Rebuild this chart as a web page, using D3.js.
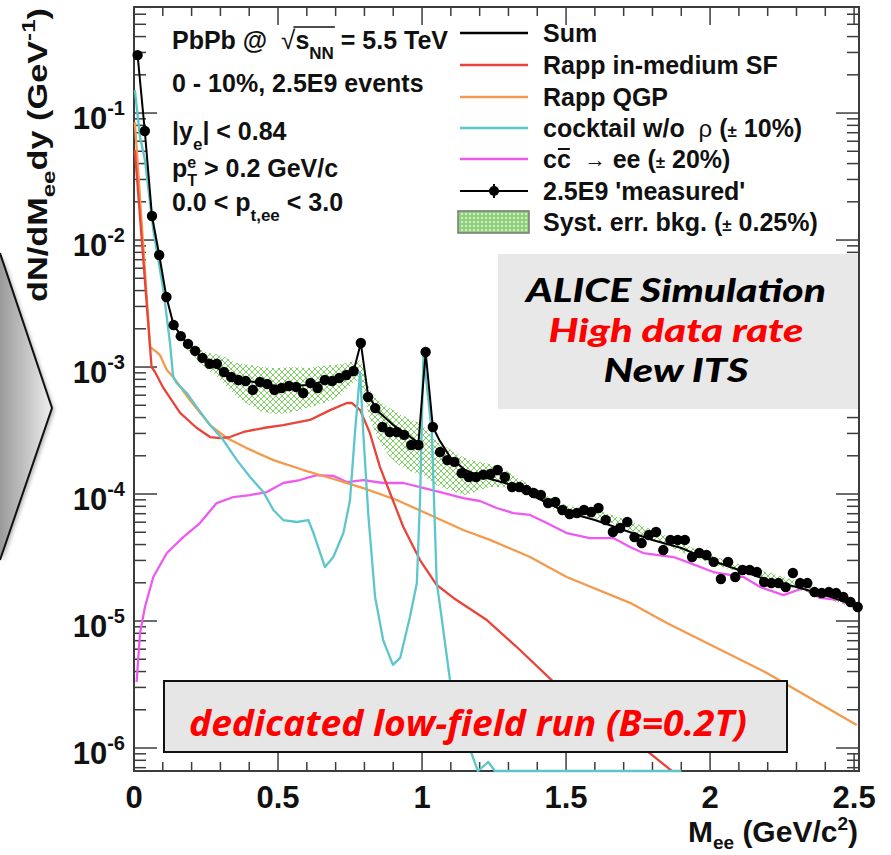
<!DOCTYPE html>
<html><head><meta charset="utf-8">
<script src="https://cdn.jsdelivr.net/npm/d3@7"></script>
<style>
body{margin:0;background:#fff;}
svg{display:block;font-family:"Liberation Sans",Arial,Helvetica,sans-serif;}
text{white-space:pre;}
</style>
</head><body>
<svg id="c" width="891" height="855"></svg>
<script>
// ---------------- data ----------------
const xTicks = [0, 0.5, 1, 1.5, 2, 2.5];
const xTickLabels = ["0", "0.5", "1", "1.5", "2", "2.5"];
const yTicks = [1e-6, 1e-5, 1e-4, 1e-3, 1e-2, 1e-1];
const yTickExp = ["-6", "-5", "-4", "-3", "-2", "-1"];

// 2.5E9 'measured' (bin centres, GeV/c^2)
const measX = [0.0125,0.0375,0.0625,0.0875,0.1125,0.1375,0.1625,0.1875,0.2125,0.2375,
  0.2625,0.2875,0.3125,0.3375,0.3625,0.3875,0.4125,0.4375,0.4625,0.4875,
  0.5125,0.5375,0.5625,0.5875,0.6125,0.6375,0.6625,0.6875,0.7125,0.7375,
  0.7625,0.7875,0.8125,0.8375,0.8625,0.8875,0.9125,0.9375,0.9625,0.9875,
  1.0125,1.0375,1.0625,1.0875,1.1125,1.1375,1.1625,1.1875,1.2125,1.2375,
  1.2625,1.2875,1.3125,1.3375,1.3625,1.3875,1.4125,1.4375,1.4625,1.4875,
  1.5125,1.5375,1.5625,1.5875,1.6125,1.6375,1.6625,1.6875,1.7125,1.7375,
  1.7625,1.7875,1.8125,1.8375,1.8625,1.8875,1.9125,1.9375,1.9625,1.9875,
  2.0125,2.0375,2.0625,2.0875,2.1125,2.1375,2.1625,2.1875,2.2125,2.2375,
  2.2625,2.2875,2.3125,2.3375,2.3625,2.3875,2.4125,2.4375,2.4625,2.4875,2.5125];
const measY = [0.286,0.0722,0.01545,0.00762,0.00356,0.00214,0.00175,0.00152,0.00134,0.00118,
  0.00106,0.00106,0.000914,0.000834,0.00079,0.000776,0.00066,0.000762,0.000735,0.00066,
  0.000684,0.000709,0.000697,0.000624,0.000748,0.000684,0.00079,0.000776,0.00082,0.000865,
  0.000931,0.001545,0.000581,0.000475,0.000337,0.000308,0.000308,0.000292,0.000243,0.000243,
  0.001312,0.000337,0.000214,0.000185,0.000179,0.000146,0.000136,0.000136,0.000142,1.437e-4,
  1.545e-4,1.361e-4,1.135e-4,1.135e-4,1.075e-4,1.018e-4,9.82e-5,8.49e-5,8.65e-5,7.48e-5,
  6.96e-5,7.08e-5,7.48e-5,7.21e-5,7.76e-5,6.24e-5,5.02e-5,5.40e-5,6.02e-5,4.58e-5,
  4.11e-5,4.75e-5,5.02e-5,3.62e-5,4.35e-5,4.35e-5,4.35e-5,3.19e-5,3.43e-5,3.31e-5,
  2.92e-5,2.14e-5,2.92e-5,2.22e-5,2.52e-5,2.52e-5,2.43e-5,2.03e-5,1.99e-5,1.99e-5,
  1.85e-5,2.39e-5,1.99e-5,1.99e-5,1.69e-5,1.66e-5,1.69e-5,1.66e-5,1.545e-5,1.41e-5,1.29e-5];

// Sum
const sumX = [0.0125,0.0375,0.0625,0.0875,0.1125,0.1375,0.175,0.2,0.25,0.3,0.35,0.4,0.45,0.5,0.55,0.6,0.65,0.7,0.74,
  0.7625,0.7875,0.8125,0.85,0.9,0.95,0.9875,1.0125,1.0375,1.06,1.1,1.15,1.2,1.3,1.4,1.5,1.6,1.7,1.8,1.9,2.0,2.1,2.2,2.3,2.4,2.5];
const sumY = [0.286,0.0722,0.01545,0.00762,0.00356,0.00214,0.00163,0.001413,0.001114,0.000946,0.000834,0.000776,0.000735,0.000709,0.000709,0.000721,0.000762,0.000819,0.000914,
  0.000931,0.001545,0.000602,0.000442,0.000349,0.000292,0.000252,0.001312,0.000337,0.000266,0.000192,0.0001545,0.0001387,0.0001199,9.30e-5,7.21e-5,6.24e-5,5.21e-5,4.35e-5,3.76e-5,3.02e-5,2.52e-5,2.10e-5,1.85e-5,1.60e-5,1.34e-5];

// Rapp in-medium SF
const rappSfX = [0.003,0.061,0.073,0.102,0.160,0.218,0.264,0.299,0.333,0.380,0.449,0.518,0.611,0.681,0.739,0.756,0.785,0.819,0.854,0.889,
  0.935,0.993,1.051,1.109,1.225,1.340,1.468,1.491,1.572,1.734,1.867];
const rappSfY = [0.0511,0.001,0.000914,0.000684,0.000435,0.000331,0.000281,0.000276,0.000281,0.000308,0.000331,0.000349,0.000383,0.000458,0.000521,0.000521,0.000458,0.000302,0.000163,0.0001018,
  5.50e-5,3.02e-5,1.92e-5,1.52e-5,1.018e-5,5.91e-6,3.13e-6,3.02e-6,2.10e-6,1.156e-6,6.6e-7];

// Rapp QGP
const rappQgpX = [0.003,0.056,0.079,0.090,0.114,0.136,0.194,0.264,0.322,0.391,0.484,0.588,0.681,0.796,0.912,1.028,1.143,1.236,1.375,1.502,1.722,1.850,2.197,2.509];
const rappQgpY = [0.0849,0.001436,0.001312,0.001242,0.000946,0.000834,0.00055,0.000349,0.000276,0.00023,0.000185,0.0001545,0.0001337,0.0001114,8.97e-5,6.84e-5,5.21e-5,4.35e-5,3.19e-5,2.22e-5,1.39e-5,9.64e-6,3.90e-6,1.52e-6];

// cocktail w/o rho
const cocktailX = [0.003,0.021,0.038,0.067,0.102,0.125,0.136,0.148,0.183,0.218,0.264,0.310,0.357,0.403,0.449,0.484,0.518,0.565,0.605,0.623,
  0.663,0.692,0.727,0.750,0.767,0.785,0.796,0.814,0.837,0.865,0.899,0.924,0.958,0.982,0.993,1.005,1.034,1.051,1.063,1.097,
  1.155,1.194,1.230,1.253,1.5,1.9];
const cocktailY = [0.1518,0.0647,0.0427,0.0120,0.00404,0.001545,0.000834,0.000748,0.000624,0.000484,0.000349,0.000266,0.000185,0.000136,0.0001037,7.48e-5,6.24e-5,6.02e-5,6.24e-5,4.93e-5,
  2.66e-5,3.19e-5,4.93e-5,8.97e-5,0.000302,0.000914,0.000302,6.59e-5,1.545e-5,7.08e-6,4.51e-6,5.12e-6,1.075e-5,1.99e-5,8.97e-5,0.001289,0.000302,1.99e-5,1.29e-5,3.43e-6,
  1.156e-6,6.0e-7,7.76e-7,5.0e-7,3.0e-7,2.0e-7];

// c cbar -> ee
const charmX = [0.009,0.021,0.038,0.067,0.114,0.171,0.229,0.287,0.345,0.403,0.461,0.518,0.576,0.634,0.692,0.739,0.796,0.866,0.935,0.993,
  1.063,1.143,1.201,1.259,1.317,1.375,1.433,1.502,1.583,1.664,1.722,1.768,1.873,1.931,2.011,2.116,2.174,2.255,2.324,2.382,2.451,2.509];
const charmY = [3.31e-6,8.05e-6,1.29e-5,2.22e-5,3.43e-5,4.58e-5,5.91e-5,8.49e-5,9.47e-5,9.82e-5,0.0001037,0.0001221,0.0001289,0.000141,0.000139,0.0001242,0.0001289,0.0001221,0.0001221,0.0001135,
  0.0001037,9.30e-5,8.81e-5,7.76e-5,7.08e-5,6.84e-5,5.91e-5,4.93e-5,4.50e-5,4.50e-5,3.83e-5,3.43e-5,3.19e-5,2.86e-5,2.43e-5,2.22e-5,1.85e-5,1.60e-5,1.82e-5,1.52e-5,1.46e-5,1.265e-5];

// Syst. err. bkg. band
const bandX  = [0.175,0.25,0.3,0.35,0.4,0.45,0.5,0.55,0.6,0.65,0.7,0.75,0.78,0.82,0.85,0.9,0.95,1.0,1.05,1.1,1.15,1.2,1.25,1.3,1.4,1.5,1.6,1.8,2.0,2.2,2.5];
const bandHi = [1.69e-3,1.31e-3,1.24e-3,1.09e-3,1.04e-3,1.0e-3,9.82e-4,1.0e-3,9.82e-4,1.02e-3,1.04e-3,1.09e-3,1.135e-3,6.59e-4,5.50e-4,4.58e-4,3.97e-4,3.49e-4,2.66e-4,2.22e-4,1.92e-4,1.79e-4,1.69e-4,1.49e-4,1.075e-4,8.19e-5,7.48e-5,5.21e-5,3.31e-5,2.43e-5,1.46e-5];
const bandLo = [1.46e-3,9.82e-4,7.90e-4,6.02e-4,5.02e-4,4.42e-4,4.27e-4,4.42e-4,4.75e-4,5.11e-4,5.70e-4,7.09e-4,7.90e-4,3.83e-4,2.66e-4,1.85e-4,1.545e-4,1.41e-4,1.18e-4,1.075e-4,9.82e-5,1.075e-4,1.135e-4,1.11e-4,8.97e-5,6.84e-5,6.47e-5,4.35e-5,2.86e-5,2.10e-5,1.265e-5];

const legendLabels = ["Sum", "Rapp in-medium SF", "Rapp QGP", "cocktail w/o ρ (± 10%)", "cc̄ → ee (± 20%)", "2.5E9 'measured'", "Syst. err. bkg. (± 0.25%)"];

// ---------------- drawing ----------------
const C = {sum:"#000", sf:"#e8443a", qgp:"#f39a4c", cock:"#5cc6cb", charm:"#ee5af0", frame:"#3c3c3c", band:"#7fcf63"};
const svg = d3.select("#c");
const defs = svg.append("defs");
const grad = defs.append("linearGradient").attr("id","chev").attr("x1",0).attr("x2",1).attr("y1",0).attr("y2",0);
grad.append("stop").attr("offset","0%").attr("stop-color","#9a9a9a");
grad.append("stop").attr("offset","100%").attr("stop-color","#eeeeee");
const pat = defs.append("pattern").attr("id","hatch").attr("width",6).attr("height",6).attr("patternUnits","userSpaceOnUse");
pat.append("path").attr("d","M0,0L6,6M6,0L0,6").attr("stroke",C.band).attr("stroke-width",1).attr("fill","none");
const pat2 = defs.append("pattern").attr("id","hatch2").attr("width",4).attr("height",4).attr("patternUnits","userSpaceOnUse");
pat2.append("rect").attr("width",4).attr("height",4).attr("fill","#8fd07a");
pat2.append("circle").attr("cx",2).attr("cy",2).attr("r",0.9).attr("fill","#f2fbef");
const sh = defs.append("filter").attr("id","shadow").attr("x","-20%").attr("y","-20%").attr("width","160%").attr("height","160%");
sh.append("feDropShadow").attr("dx",2).attr("dy",2).attr("stdDeviation",2).attr("flood-opacity",0.35);

// chevron at the left edge
svg.append("polygon").attr("points","0,253 52,408 0,560").attr("fill","url(#chev)").attr("filter","url(#shadow)");
svg.append("path").attr("d","M0,253L52,408L0,560").attr("fill","none").attr("stroke","#111").attr("stroke-width",2);

const yMin = 6.59e-7, yMax = 0.684;
const x = d3.scaleLinear().domain([0, 2.517]).range([134, 859]);
const y = d3.scaleLog().domain([yMin, yMax]).range([771, 7]);
const yc = v => y(Math.max(v, yMin));
const X0 = x.range()[0], X1 = x.range()[1], Y0 = y.range()[0], Y1 = y.range()[1];

// frame
svg.append("rect").attr("x",X0).attr("y",Y1).attr("width",X1-X0).attr("height",Y0-Y1)
  .attr("fill","none").attr("stroke",C.frame).attr("stroke-width",2);
const tk = svg.append("g").attr("stroke",C.frame).attr("stroke-width",1.5);
const xMinor = d3.range(0, 2.5001, 0.1);
xMinor.forEach(v => {
  const major = xTicks.some(t => Math.abs(t - v) < 1e-6);
  const L = major ? 18 : 9;
  tk.append("line").attr("x1",x(v)).attr("x2",x(v)).attr("y1",Y0).attr("y2",Y0-L);
  tk.append("line").attr("x1",x(v)).attr("x2",x(v)).attr("y1",Y1).attr("y2",Y1+L);
});
for (let e = -7; e <= 0; e++) {
  for (let m = 1; m <= 9; m++) {
    const v = m * Math.pow(10, e);
    if (v < yMin || v > yMax) continue;
    const L = m === 1 ? 23 : 12;
    tk.append("line").attr("x1",X0).attr("x2",X0+L).attr("y1",y(v)).attr("y2",y(v));
    tk.append("line").attr("x1",X1).attr("x2",X1-L).attr("y1",y(v)).attr("y2",y(v));
  }
}

// tick labels
xTicks.forEach((v,i) => {
  svg.append("text").attr("x",x(v)).attr("y",808).attr("text-anchor","middle")
    .attr("font-size",31).attr("font-weight","bold").attr("fill","#111").text(xTickLabels[i]);
});
yTicks.forEach((v,i) => {
  const t = svg.append("text").attr("x",125).attr("y",y(v)+16).attr("text-anchor","end")
    .attr("font-size",31).attr("font-weight","bold").attr("fill","#111");
  t.append("tspan").text("10");
  t.append("tspan").attr("font-size",20).attr("dy",-14).text(yTickExp[i]);
});

// band
const bandData = bandX.map((d,i) => [d, bandHi[i], bandLo[i]]);
svg.append("path").datum(bandData)
  .attr("d", d3.area().x(d=>x(d[0])).y0(d=>y(d[2])).y1(d=>y(d[1])).curve(d3.curveMonotoneX))
  .attr("fill","url(#hatch)");

// curves
const lineGen = d3.line().x(d=>x(d[0])).y(d=>yc(d[1]));
const zip = (a,b) => a.map((d,i)=>[d,b[i]]);
[[charmX,charmY,C.charm],[rappQgpX,rappQgpY,C.qgp],[rappSfX,rappSfY,C.sf],[cocktailX,cocktailY,C.cock]].forEach(([xs,ys,col]) => {
  svg.append("path").datum(zip(xs,ys)).attr("d",lineGen).attr("fill","none").attr("stroke",col)
    .attr("stroke-width",2.3).attr("stroke-linejoin","round");
});
svg.append("path").datum(zip(sumX,sumY)).attr("d",lineGen).attr("fill","none").attr("stroke",C.sum).attr("stroke-width",2);

// measured points
svg.append("g").selectAll("circle").data(zip(measX,measY)).join("circle")
  .attr("cx",d=>x(d[0])).attr("cy",d=>yc(d[1])).attr("r",5.2).attr("fill","#000");

// rich text helper (left aligned pieces)
function rich(g, x0, y0, parts, base) {
  let cx = x0; const spans = [];
  parts.forEach(p => {
    const t = g.append("text").attr("x",cx).attr("y",y0 + (p.dy||0))
      .attr("font-size",p.fs||base.fs).attr("font-weight",p.fw||base.fw||"bold")
      .attr("fill",p.fill||base.fill||"#111").text(p.t);
    if (p.ff) t.attr("font-family",p.ff);
    const w = t.node().getComputedTextLength();
    spans.push({x0:cx, x1:cx+w});
    if (!p.stack) cx += (p.adv !== undefined ? p.adv : w);
  });
  return {spans, width: cx - x0};
}

// info block
const info = svg.append("g");
const base = {fs:25};
const l1 = rich(info, 172, 49, [{t:"PbPb @  "},{t:"√", fw:"normal", fs:26},{t:"s"},{t:"NN", fs:17, dy:10},{t:" = 5.5 TeV"}], base);
info.append("line").attr("x1",l1.spans[1].x1-2).attr("x2",l1.spans[3].x1+1).attr("y1",27).attr("y2",27)
  .attr("stroke","#111").attr("stroke-width",1.6);
rich(info, 172, 92, [{t:"0 - 10%, 2.5E9 events"}], base);
rich(info, 172, 140, [{t:"|y"},{t:"e", fs:17, dy:10},{t:"| < 0.84"}], base);
rich(info, 172, 177, [{t:"p"},{t:"e", fs:16, dy:-9, stack:true},{t:"T", fs:16, dy:9},{t:" > 0.2 GeV/c"}], base);
rich(info, 172, 211, [{t:"0.0 < p"},{t:"t,ee", fs:17, dy:10},{t:" < 3.0"}], base);

// legend
const lg = svg.append("g");
const rowsY = [33, 65, 97, 128, 159, 191, 222];
const lineCols = [C.sum, C.sf, C.qgp, C.cock, C.charm];
lineCols.forEach((col,i) => {
  lg.append("line").attr("x1",460).attr("x2",528).attr("y1",rowsY[i]).attr("y2",rowsY[i]).attr("stroke",col).attr("stroke-width",2.3);
});
lg.append("line").attr("x1",460).attr("x2",528).attr("y1",rowsY[5]).attr("y2",rowsY[5]).attr("stroke","#000").attr("stroke-width",2);
lg.append("line").attr("x1",494).attr("x2",494).attr("y1",rowsY[5]-7).attr("y2",rowsY[5]+7).attr("stroke","#000").attr("stroke-width",2);
lg.append("circle").attr("cx",494).attr("cy",rowsY[5]).attr("r",5).attr("fill","#000");
lg.append("rect").attr("x",458).attr("y",211).attr("width",71).attr("height",22).attr("fill","url(#hatch2)").attr("stroke","#777").attr("stroke-width",1.5);
const lb = {fs:25};
rich(lg, 543, rowsY[0]+9, [{t:legendLabels[0]}], lb);
rich(lg, 543, rowsY[1]+9, [{t:legendLabels[1]}], lb);
rich(lg, 543, rowsY[2]+9, [{t:legendLabels[2]}], lb);
rich(lg, 543, rowsY[3]+9, [{t:"cocktail w/o  "},{t:"ρ", fw:"normal", fs:24},{t:" ("},{t:"±", fs:17},{t:" 10%)"}], lb);
const cc = rich(lg, 543, rowsY[4]+9, [{t:"c"},{t:"c"},{t:"  "},{t:"→", fs:21, dy:-1},{t:" ee ("},{t:"±", fs:17},{t:" 20%)"}], lb);
lg.append("line").attr("x1",cc.spans[1].x0+1).attr("x2",cc.spans[1].x1-1).attr("y1",rowsY[4]-10).attr("y2",rowsY[4]-10).attr("stroke","#111").attr("stroke-width",2);
rich(lg, 543, rowsY[5]+9, [{t:legendLabels[5]}], lb);
rich(lg, 543, rowsY[6]+9, [{t:"Syst. err. bkg. ("},{t:"±", fs:17},{t:" 0.25%)"}], lb);

// ALICE box
svg.append("rect").attr("x",498).attr("y",254).attr("width",360).attr("height",155).attr("fill","#e8e8e8");
const ab = [["ALICE Simulation","#000",302,300],["High data rate","#ff0000",342,255],["New ITS","#000",382,145]];
ab.forEach(([t,col,yy,len]) => {
  svg.append("text").attr("x",676).attr("y",yy).attr("text-anchor","middle")
    .attr("font-family","Lato, 'Open Sans', sans-serif").attr("font-style","italic").attr("font-weight","900")
    .attr("font-size",33).attr("fill",col).attr("textLength",len).attr("lengthAdjust","spacingAndGlyphs").text(t);
});

// low-field box
svg.append("rect").attr("x",164).attr("y",681).attr("width",623).attr("height",71).attr("fill","#e6e6e6").attr("stroke","#111").attr("stroke-width",2);
svg.append("text").attr("x",189).attr("y",736).attr("font-family","'Open Sans', 'Noto Sans', sans-serif")
  .attr("font-style","italic").attr("font-weight","bold").attr("font-size",36).attr("fill","#ff0000")
  .attr("textLength",558).attr("lengthAdjust","spacingAndGlyphs").text("dedicated low-field run (B=0.2T)");

// x axis title (right aligned at frame end)
const xt = svg.append("g");
const xtr = rich(xt, 0, 842, [{t:"M"},{t:"ee", fs:19, dy:7},{t:" (GeV/c"},{t:"2", fs:19, dy:-12},{t:")"}], {fs:30});
xt.attr("transform", `translate(${858 - xtr.width},0)`);

// y axis title (rotated, right aligned at top)
const yt = svg.append("g");
const ytr = rich(yt, 0, 0, [{t:"dN/dM"},{t:"ee", fs:19, dy:8},{t:"dy (GeV"},{t:"-1", fs:19, dy:-12},{t:")"}], {fs:27});
const k = 294 / ytr.width;
yt.attr("transform", `translate(47,302) rotate(-90) scale(${k},1)`);
</script>
</body></html>
